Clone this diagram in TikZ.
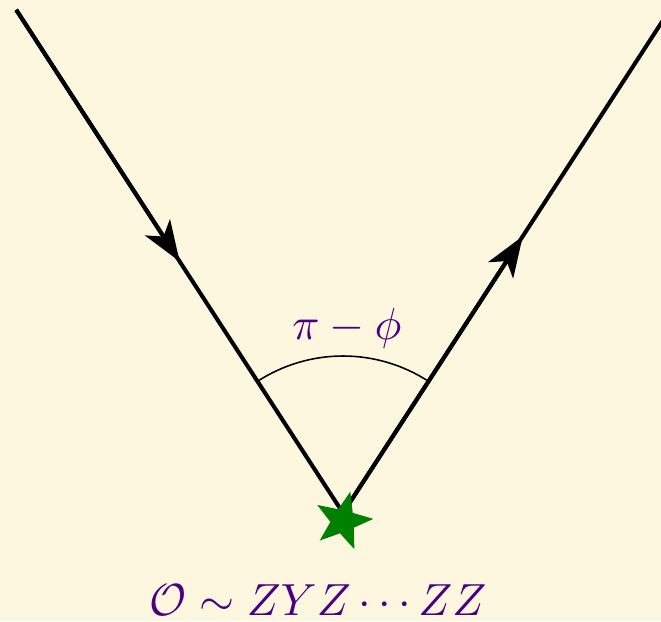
\documentclass[tikz,border=0pt]{standalone}
\usetikzlibrary{arrows.meta,shapes.geometric,calc}
\definecolor{bgcream}{RGB}{254,247,224}
\definecolor{labpurple}{RGB}{75,0,130}
\definecolor{stargreen}{RGB}{0,128,0}
\tikzset{
  leg/.style={line width=0.9pt, black},
  legarrow/.style={line width=0.9pt, -{Stealth[length=9pt,width=6.6pt,inset=2.4pt]}},
  anglearc/.style={line width=0.35pt, black},
  lab/.style={text=labpurple, inner sep=0pt},
}
\begin{document}
\begin{tikzpicture}[x=0.2222pt,y=0.2222pt]
  \fill[bgcream] (0,0) rectangle (661,621);
  \useasboundingbox (0,0) rectangle (661,621);
  \coordinate (A) at (343,108);
  \coordinate (L) at ($(A)+(123:600)$);
  \coordinate (R) at ($(A)+(57:660)$);
  \coordinate (tipL) at ($(A)+(123:300)$);
  \coordinate (tipR) at ($(A)+(57:330)$);
  \draw[leg] (L) -- (A) -- (R);
  \draw[legarrow] (L) -- (tipL);
  \draw[legarrow] (A) -- (tipR);
  \draw[anglearc] ($(A)+(123:157)$) arc[start angle=123, end angle=57, radius=157];
  \node[lab] (ang) at (347,293) {$\pi-\phi$};
  \node[star, star points=5, star point ratio=2.4, fill=stargreen, draw=none,
        minimum size=13.5pt, inner sep=0pt, rotate=-14] (S) at (343,100) {};
  \node[lab] (op) at (318,21) {$\mathcal{O}\sim ZYZ\cdots ZZ$};
\end{tikzpicture}
\end{document}
